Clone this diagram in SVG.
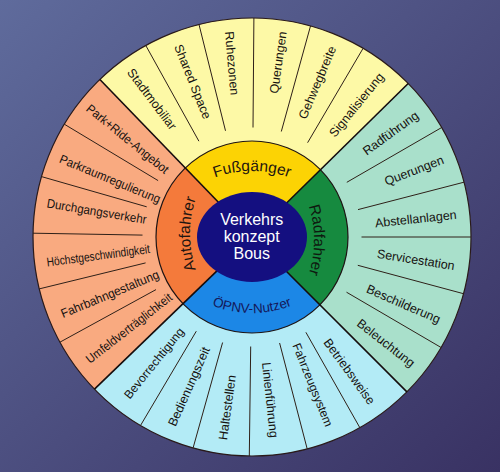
<svg xmlns="http://www.w3.org/2000/svg" width="500" height="472" viewBox="0 0 500 472">
<defs>
<linearGradient id="bg" x1="0" y1="0" x2="1" y2="1">
<stop offset="0" stop-color="#5f6b9c"/>
<stop offset="1" stop-color="#393263"/>
</linearGradient>
<path id="pF" d="M 181.3,196.7 A 110 110 0 0 1 322.7,196.7"/>
<path id="pO" d="M 181.3,287.3 A 110 110 0 0 0 322.7,287.3"/>
<path id="pA" d="M 215.7,304.7 A 110 110 0 0 1 215.7,163.3"/>
<path id="pR" d="M 288.3,169.3 A 110 110 0 0 1 288.3,310.7"/>
</defs>
<style>
.it{font-family:"Liberation Sans",Arial,sans-serif;font-size:12.5px;fill:#161210;text-anchor:middle}
.rl{font-family:"Liberation Sans",Arial,sans-serif;font-size:15.5px;fill:#1e1510}
.ct{font-family:"Liberation Sans",Arial,sans-serif;font-size:16px;fill:#ffffff;text-anchor:middle}
.dv{stroke:#2e2018;stroke-width:1;fill:none}
.qb{stroke:#150d0d;stroke-width:1.6;fill:none}
</style>
<rect width="500" height="472" fill="url(#bg)"/>

<g id="sectors">
<path d="M252,237 L99.9,79.5 A219 219 0 0 1 408.2,83.5 Z" fill="#fdf9a6"/>
<path d="M252,237 L408.2,83.5 A219 219 0 0 1 406.9,391.9 Z" fill="#a9e0cb"/>
<path d="M252,237 L406.9,391.9 A219 219 0 0 1 94.5,389.1 Z" fill="#b3ebf6"/>
<path d="M252,237 L94.5,389.1 A219 219 0 0 1 99.9,79.5 Z" fill="#f9aa80"/>
<circle cx="252" cy="237" r="219" fill="none" stroke="#2a1a1a" stroke-width="1.2"/>
</g>

<g id="connectors">
<line class="dv" x1="198.9" y1="141.2" x2="145.8" y2="45.5"/>
<line class="dv" x1="225.5" y1="130.8" x2="199.0" y2="24.5"/>
<line class="dv" x1="253.0" y1="127.5" x2="253.9" y2="18.0"/>
<line class="dv" x1="281.3" y1="131.5" x2="310.5" y2="26.0"/>
<line class="dv" x1="307.6" y1="142.7" x2="363.1" y2="48.3"/>
<line class="dv" x1="346.8" y1="182.3" x2="441.7" y2="127.5"/>
<line class="dv" x1="358.0" y1="209.6" x2="464.0" y2="182.2"/>
<line class="dv" x1="361.5" y1="237" x2="471" y2="237"/>
<line class="dv" x1="357.8" y1="265.3" x2="463.5" y2="293.7"/>
<line class="dv" x1="346.5" y1="292.2" x2="441.1" y2="347.5"/>
<line class="dv" x1="305.9" y1="332.3" x2="359.8" y2="427.6"/>
<line class="dv" x1="279.6" y1="343.0" x2="307.2" y2="448.9"/>
<line class="dv" x1="250.7" y1="346.5" x2="249.3" y2="456.0"/>
<line class="dv" x1="222.6" y1="342.5" x2="193.1" y2="447.9"/>
<line class="dv" x1="196.3" y1="331.2" x2="140.5" y2="425.5"/>
<line class="dv" x1="156.0" y1="289.6" x2="59.9" y2="342.2"/>
<line class="dv" x1="145.6" y1="262.9" x2="39.2" y2="288.9"/>
<line class="dv" x1="142.5" y1="235.1" x2="33.0" y2="233.2"/>
<line class="dv" x1="146.7" y1="206.8" x2="41.5" y2="176.6"/>
<line class="dv" x1="158.1" y1="180.6" x2="64.3" y2="124.2"/>
</g>

<g id="ring-fussgaenger">
<path d="M252,237 L185.3,167.9 A96 96 0 0 1 320.5,169.7 Z" fill="#fcd304"/>
<text class="rl"><textPath href="#pF" startOffset="50%" text-anchor="middle">Fußgänger</textPath></text>
</g>
<g id="ring-radfahrer">
<path d="M252,237 L320.5,169.7 A96 96 0 0 1 319.9,304.9 Z" fill="#168a3f"/>
<text class="rl" fill="#0e1a10" style="fill:#0e1a10"><textPath href="#pR" startOffset="50%" text-anchor="middle">Radfahrer</textPath></text>
</g>
<g id="ring-oepnv">
<path d="M252,237 L319.9,304.9 A96 96 0 0 1 182.9,303.7 Z" fill="#1c87e6"/>
<text class="rl" style="font-size:13.5px;fill:#14185a"><textPath href="#pO" startOffset="50%" text-anchor="middle">ÖPNV-Nutzer</textPath></text>
</g>
<g id="ring-autofahrer">
<path d="M252,237 L182.9,303.7 A96 96 0 0 1 185.3,167.9 Z" fill="#f47a3b"/>
<text class="rl"><textPath href="#pA" startOffset="50%" text-anchor="middle">Autofahrer</textPath></text>
</g>
<circle cx="252" cy="237" r="96" fill="none" stroke="#1e1414" stroke-width="1.2"/>

<g id="quadrant-lines">
<line class="qb" x1="224.2" y1="208.2" x2="99.9" y2="79.5"/>
<line class="qb" x1="280.5" y1="209.0" x2="408.2" y2="83.5"/>
<line class="qb" x1="280.3" y1="265.3" x2="406.9" y2="391.9"/>
<line class="qb" x1="223.2" y1="264.8" x2="94.5" y2="389.1"/>
</g>

<g id="center">
<ellipse cx="252" cy="237" rx="55" ry="45" fill="#140f80"/>
<text class="ct" x="251.7" y="224.5">Verkehrs</text>
<text class="ct" x="251.7" y="241.5">konzept</text>
<text class="ct" x="251.7" y="258.5">Bous</text>
</g>

<g id="fussgaenger-items">
<g id="stadtmobiliar"><text class="it" dy="0.32em" transform="translate(151.7,99.2) rotate(53)">Stadtmobiliar</text></g>
<g id="shared-space"><text class="it" dy="0.32em" transform="translate(192.5,81.7) rotate(68)">Shared Space</text></g>
<g id="ruhezonen"><text class="it" dy="0.32em" transform="translate(231.7,63.3) rotate(85)">Ruhezonen</text></g>
<g id="querungen-f"><text class="it" dy="0.32em" transform="translate(278.3,62.5) rotate(-82)">Querungen</text></g>
<g id="gehwegbreite"><text class="it" dy="0.32em" transform="translate(317.5,82.5) rotate(-67)">Gehwegbreite</text></g>
<g id="signalisierung"><text class="it" dy="0.32em" transform="translate(356.7,105) rotate(-51)">Signalisierung</text></g>
</g>

<g id="radfahrer-items">
<g id="radfuehrung"><text class="it" dy="0.32em" transform="translate(390.8,133.3) rotate(-36)">Radführung</text></g>
<g id="querungen-r"><text class="it" dy="0.32em" transform="translate(414.2,170.8) rotate(-21)">Querungen</text></g>
<g id="abstellanlagen"><text class="it" dy="0.32em" transform="translate(415.8,219.2) rotate(-6)">Abstellanlagen</text></g>
<g id="servicestation"><text class="it" dy="0.32em" transform="translate(415.8,260) rotate(9)">Servicestation</text></g>
<g id="beschilderung"><text class="it" dy="0.32em" transform="translate(403.3,304.2) rotate(23.5)">Beschilderung</text></g>
<g id="beleuchtung"><text class="it" dy="0.32em" transform="translate(385.8,343.3) rotate(38)">Beleuchtung</text></g>
</g>

<g id="oepnv-items">
<g id="bevorrechtigung"><text class="it" dy="0.32em" style="font-size:12px" transform="translate(154.2,363.3) rotate(-51)">Bevorrechtigung</text></g>
<g id="bedienungszeit"><text class="it" dy="0.32em" transform="translate(189.2,386.7) rotate(-66)">Bedienungszeit</text></g>
<g id="haltestellen"><text class="it" dy="0.32em" transform="translate(227.5,407.5) rotate(-82)">Haltestellen</text></g>
<g id="linienfuehrung"><text class="it" dy="0.32em" transform="translate(270,400) rotate(84)">Linienführung</text></g>
<g id="fahrzeugsystem"><text class="it" dy="0.32em" style="font-size:12px" transform="translate(312.5,385) rotate(68)">Fahrzeugsystem</text></g>
<g id="betriebsweise"><text class="it" dy="0.32em" transform="translate(349.2,371.7) rotate(54)">Betriebsweise</text></g>
</g>

<g id="autofahrer-items">
<g id="park-ride"><text class="it" dy="0.32em" textLength="102" lengthAdjust="spacingAndGlyphs" transform="translate(127.5,139.2) rotate(39)">Park+Ride-Angebot</text></g>
<g id="parkraumregulierung"><text class="it" dy="0.32em" textLength="108" lengthAdjust="spacingAndGlyphs" transform="translate(110,179.2) rotate(22.5)">Parkraumregulierung</text></g>
<g id="durchgangsverkehr"><text class="it" dy="0.32em" textLength="101" lengthAdjust="spacingAndGlyphs" transform="translate(96.7,211.7) rotate(9.5)">Durchgangsverkehr</text></g>
<g id="hoechstgeschwindigkeit"><text class="it" dy="0.32em" textLength="104" lengthAdjust="spacingAndGlyphs" transform="translate(98.3,255.8) rotate(-7.5)">Höchstgeschwindigkeit</text></g>
<g id="fahrbahngestaltung"><text class="it" dy="0.32em" textLength="105" lengthAdjust="spacingAndGlyphs" transform="translate(110,294.2) rotate(-22.5)">Fahrbahngestaltung</text></g>
<g id="umfeldvertraeglichkeit"><text class="it" dy="0.32em" textLength="105.5" lengthAdjust="spacingAndGlyphs" transform="translate(129.2,328.3) rotate(-38)">Umfeldverträglichkeit</text></g>
</g>
</svg>
